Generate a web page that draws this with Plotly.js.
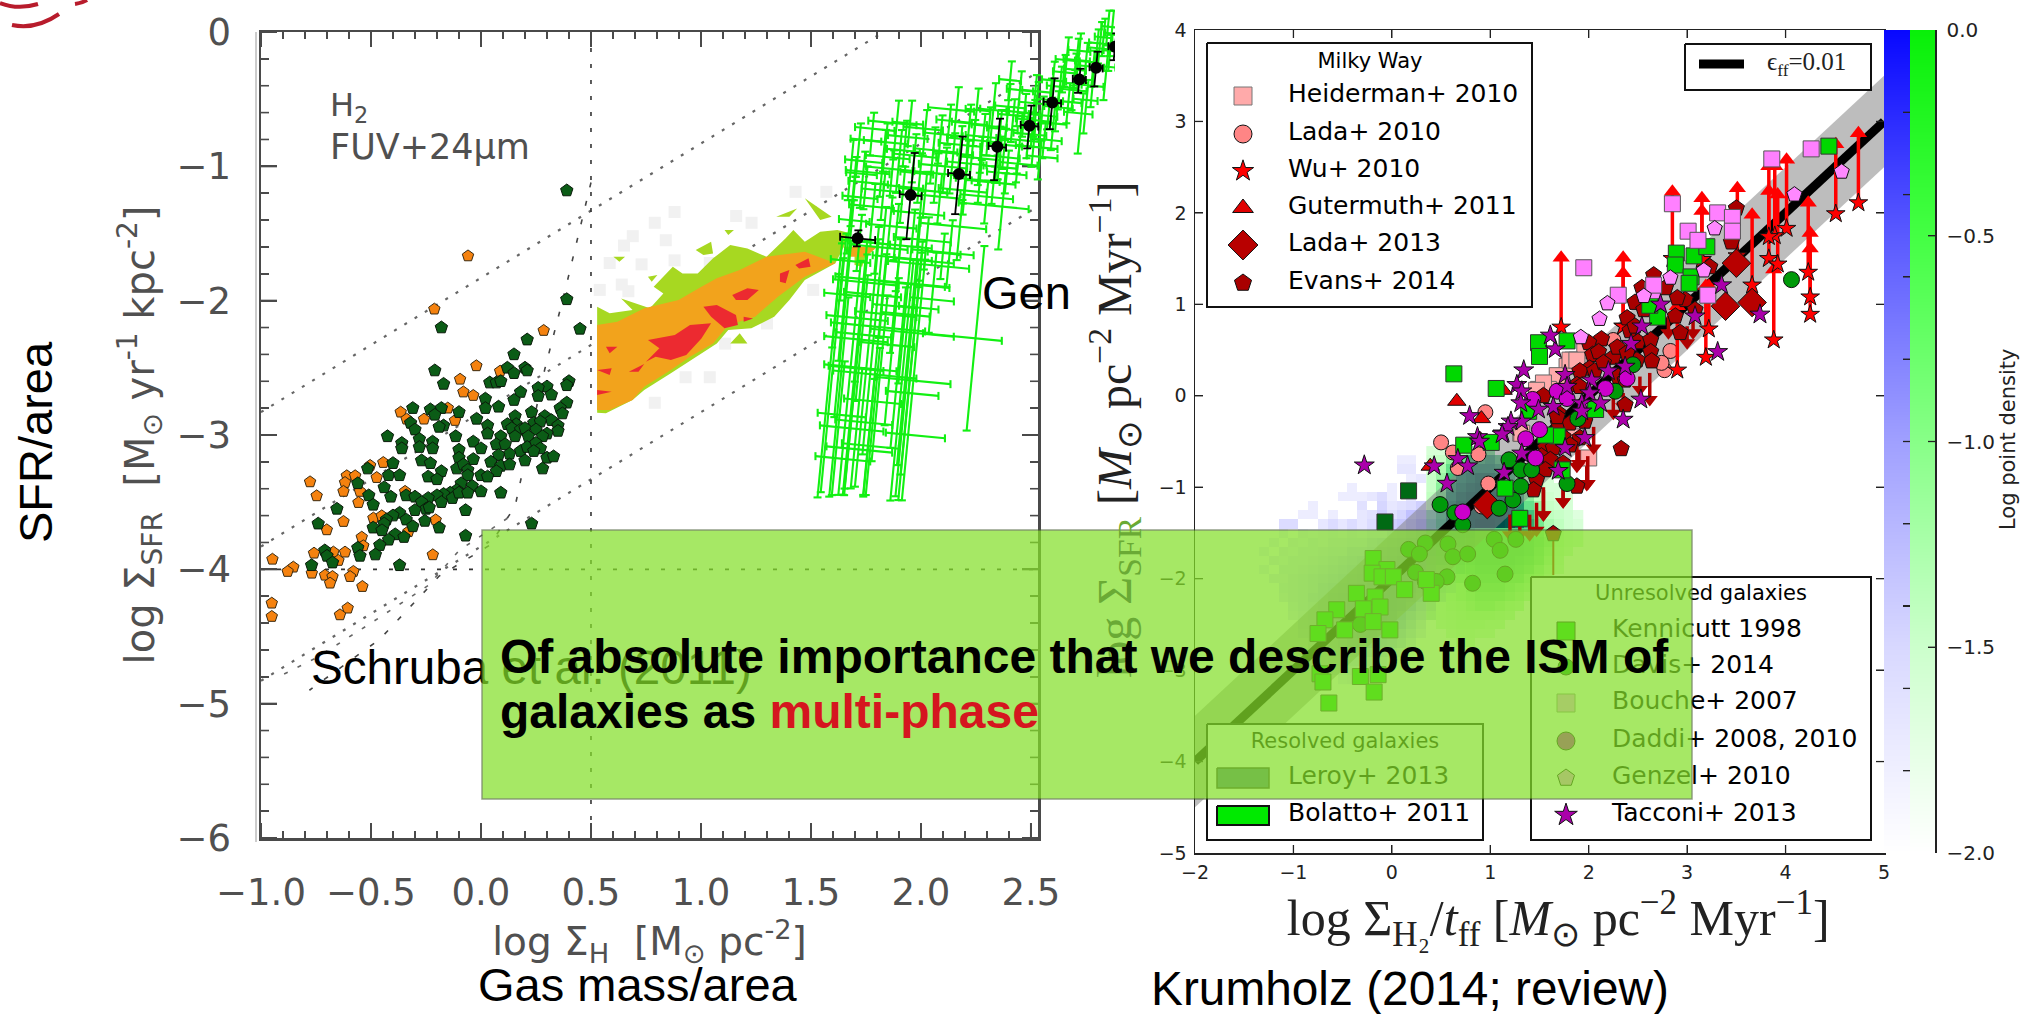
<!DOCTYPE html>
<html><head><meta charset="utf-8">
<script src="https://cdn.plot.ly/plotly-3.0.1.min.js"></script>
<style>html,body{margin:0;padding:0;background:#fff}#p{width:2025px;height:1014px}</style></head>
<body><div id="p"></div>
<script>
const _ = null;
// ---------- Left panel (Schruba et al. 2011): log gas surface density vs log SFR surface density
const darkGreenX = [.39,.39,-.18,.21,.45,.15,.12,.20,.21,.15,-.21,-.17,.04,.07,.09,.40,.39,.30,.26,.32,.26,.18,.15,.02,.02,.08,.39,.36,.37,-.31,-.23,-.18,-.21,-.10,-.02,.23,.29,.32,.35,.35,.155,.16,.12,.14,.18,.24,.27,.20,.25,.30,.03,.03,-.17,-.19,-.32,-.30,-.115,-.425,-.36,-.36,-.28,-.28,-.22,-.22,-.035,.09,.155,.215,.28,-.10,-.10,-.035,0,.07,.11,.13,.08,.18,.21,.25,.27,.24,.30,.33,.20,.045,.09,.13,.07,.28,-.27,-.23,-.40,-.515,-.42,-.37,-.11,-.08,-.06,-.06,-.18,-.24,-.20,0,.03,-.56,-.44,-.41,-.51,-.49,-.655,-.34,-.30,-.09,-.04,-.11,-.14,-.17,-.20,-.24,-.27,-.18,-.13,-.10,-.06,0,.09,-.25,-.30,-.235,-.07,-.37,-.40,-.43,-.34,-.44,-.255,-.49,-.45,-.31,-.19,-.74,-.39,-.42,-.35,-.07,-.46,-.56,-.55,-.48,-.71,-.70,-.675,-.77,-.37,.23];
const darkGreenY = [-1.18,-1.99,-2.20,-2.29,-2.21,-2.40,-2.50,-2.50,-2.52,-2.54,-2.52,-2.62,-2.61,-2.61,-2.60,-2.60,-2.63,-2.64,-2.65,-2.70,-2.71,-2.68,-2.74,-2.73,-2.80,-2.79,-2.76,-2.80,-2.84,-2.80,-2.81,-2.80,-2.85,-2.83,-2.88,-2.83,-2.86,-2.89,-2.93,-2.97,-2.86,-2.92,-2.92,-2.95,-2.96,-2.91,-2.90,-2.95,-2.96,-2.99,-2.93,-2.99,-2.93,-2.94,-2.91,-2.96,-3.01,-3.01,-3.06,-3.10,-3.03,-3.09,-3.05,-3.10,-3.05,-3.01,-3.01,-3.01,-3.01,-3.11,-3.17,-3.18,-3.10,-3.07,-3.07,-3.14,-3.15,-3.12,-3.09,-3.06,-3.10,-3.12,-3.17,-3.16,-3.19,-3.20,-3.23,-3.22,-3.27,-3.25,-3.19,-3.21,-3.21,-3.25,-3.30,-3.30,-3.25,-3.22,-3.26,-3.30,-3.27,-3.31,-3.33,-3.30,-3.31,-3.36,-3.39,-3.46,-3.45,-3.52,-3.55,-3.45,-3.46,-3.36,-3.38,-3.41,-3.43,-3.44,-3.45,-3.47,-3.50,-3.50,-3.47,-3.43,-3.43,-3.42,-3.43,-3.55,-3.56,-3.54,-3.56,-3.58,-3.60,-3.63,-3.63,-3.66,-3.64,-3.69,-3.71,-3.68,-3.69,-3.66,-3.74,-3.78,-3.76,-3.75,-3.82,-3.84,-3.90,-3.89,-3.86,-3.90,-3.95,-3.97,-3.97,-3.66];
const orangeX = [-.059,-.212,.285,-.021,.087,-.095,-.08,-.035,-.365,-.338,-.259,-.118,-.151,-.444,-.504,-.474,-.61,-.572,-.618,-.777,-.747,-.625,-.55,-.557,-.625,-.701,-.489,-.451,-.206,-.345,-.33,-.542,-.535,-.618,-.671,-.759,-.648,-.219,-.948,-.853,-.879,-.769,-.709,-.675,-.686,-.58,-.595,-.539,-1.009,-.951,-.951,-.606,-.641];
const orangeY = [-1.667,-2.063,-2.222,-2.485,-2.525,-2.585,-2.68,-2.706,-2.83,-2.882,-2.882,-2.892,-2.8,-3.205,-3.227,-3.317,-3.304,-3.304,-3.354,-3.349,-3.453,-3.42,-3.42,-3.503,-3.644,-3.706,-3.619,-3.602,-3.632,-3.42,-3.72,-3.761,-3.825,-3.872,-3.872,-3.88,-3.934,-3.892,-3.925,-3.984,-4.016,-4.029,-4.044,-4.054,-4.103,-4.016,-4.054,-4.128,-4.106,-4.252,-4.351,-4.289,-4.339];
const effLineX = [-1, 1.83];
const effLineA = [-2.83, 0];
const effLine2X = [-1, 2.53];
const effLineB = [-3.83, -.3];
const effLineC = [-4.83, -1.3];
const steepX1 = [.5,.38,.29,.155,.04,-.19,-.46,-.78];
const steepY1 = [-1.12,-1.94,-2.51,-3.53,-3.82,-4.05,-4.52,-4.9];
const steepX2 = [.12,-.1,-.24,-.5,-.75,-.92];
const steepY2 = [-3.62,-3.86,-4.12,-4.4,-4.66,-4.8];
const contourGreenX = [.528,.585,.689,.637,.768,.829,.785,.872,.916,.985,1.055,1.133,1.211,1.298,1.385,1.42,1.472,1.542,1.62,1.68,1.611,1.472,1.402,1.333,1.229,1.124,1.072,.968,.863,.742,.689,.568,.528,_,1.342,1.437,1.402,_,1.472,1.594,1.542,_,.976,1.046,1.055,1.011,_,.602,.655,.629,_,1.107,1.15,1.124,_,.759,.802,.776,_,1.133,1.176,1.211,_,1.698,1.75,1.733,1.698];
const contourGreenY = [-2.045,-2.094,-2.07,-1.983,-2.057,-1.946,-1.896,-1.747,-1.797,-1.797,-1.685,-1.586,-1.611,-1.673,-1.536,-1.474,-1.561,-1.487,-1.474,-1.499,-1.722,-1.846,-1.995,-2.119,-2.206,-2.219,-2.318,-2.43,-2.541,-2.665,-2.74,-2.839,-2.834,_,-1.375,-1.313,-1.375,_,-1.238,-1.375,-1.4,_,-1.623,-1.561,-1.648,-1.66,_,-1.673,-1.673,-1.71,_,-1.474,-1.474,-1.511,_,-1.822,-1.809,-1.859,_,-2.318,-2.243,-2.318,_,-1.648,-1.648,-1.747,-1.735];
const contourOrangeX = [.528,.62,.742,.898,1.002,1.072,1.176,1.298,1.472,1.576,1.611,1.472,1.35,1.246,1.124,1.055,.95,.863,.742,.689,.585,.528,_,1.646,1.802,1.75,1.68];
const contourOrangeY = [-2.181,-2.157,-2.057,-1.995,-1.896,-1.834,-1.772,-1.673,-1.635,-1.697,-1.722,-1.822,-1.97,-2.119,-2.181,-2.318,-2.417,-2.516,-2.64,-2.74,-2.814,-2.814,_,-1.598,-1.598,-1.673,-1.673];
const contourRedX = [.759,.881,.95,1.046,1.002,.933,.863,.794,.75,.811,_,1.011,1.072,1.159,1.168,1.107,1.046,_,1.142,1.211,1.263,1.211,1.159,_,1.359,1.402,1.385,1.359,_,1.429,1.489,1.498,1.446,_,.528,.594,.585,_,.672,.742,.716,_,.568,.62,.585,_,.528,.594,.528,_,1.194,1.237,1.194];
const contourRedY = [-2.293,-2.256,-2.181,-2.169,-2.281,-2.405,-2.442,-2.417,-2.454,-2.355,_,-2.045,-2.032,-2.107,-2.181,-2.206,-2.119,_,-1.958,-1.908,-1.921,-1.995,-1.995,_,-1.797,-1.772,-1.871,-1.859,_,-1.735,-1.685,-1.747,-1.76,_,-2.516,-2.504,-2.553,_,-2.529,-2.472,-2.529,_,-2.343,-2.343,-2.392,_,-2.665,-2.678,-2.702,_,-2.119,-2.132,-2.157];
const faintX = [1.43,1.57,.88,.79,1.16,1.23,.69,.65,.84,.585,.73,.88,1.04,.64,.54,.67,1.51,1.3,1.11,1.04,.93,.79,.62];
const faintY = [-1.19,-1.19,-1.34,-1.42,-1.37,-1.42,-1.52,-1.59,-1.55,-1.72,-1.73,-1.70,-1.72,-1.88,-1.92,-1.93,-1.92,-2.17,-2.32,-2.57,-2.57,-2.76,-2.71];
// Genzel points: x, y, x-, x+, y+, y-
const errX  = [1.685,1.738,1.829,1.89,1.95,1.905,1.996,2.056,2.162,2.147,2.208,2.253,2.283,2.329,2.397,2.405,2.45,2.526,2.586,2.662,2.708,2.753,2.73,2.814,2.844,2.867,2.511,2.45,2.359,2.541,2.39,2.268,2.086,1.996,1.89,1.783,1.693,1.677,2.071,1.92,2.238,2.299,2.177,2.026,2.344,2.511,2.632,2.783,2.693,2.602,2.248,1.60,1.68,1.89,1.96,1.935,1.97,1.79,1.60,1.60,1.68,1.715,1.77,1.81,1.97,1.88,2.05,1.87,1.66,1.65,1.95,1.85,2.13,2.37,
 1.72,1.78,1.84,1.87,1.93,1.97,2.02,2.02,2.09,2.11,2.13,2.18,2.2,2.22,2.27,2.31,2.33,2.36,2.38,2.42,2.44,2.47,2.49,2.52,2.55,2.56,2.6,2.62,2.65,2.67,2.7,2.72,2.75,2.78,2.8,2.83,2.85,2.86,1.75,1.83,1.7,1.72,1.8,1.9,2.0,2.1,1.65,1.62,1.75,1.84,1.92,1.98,1.71,1.63,1.79,1.67,1.76];
const errY  = [-.953,-1.04,-.928,-.68,-.68,-.879,-1.052,-.879,-.58,-.903,-.978,-.58,-.779,-.58,-.556,-.358,-.432,-.531,-.506,-.209,-.209,-.506,-.606,-.085,-.258,-.01,-.854,-.804,-.928,-.928,-1.052,-1.102,-1.226,-1.35,-1.449,-1.30,-1.226,-1.40,-1.052,-1.152,-.804,-1.226,-1.449,-1.549,-1.003,-.655,-.407,-.258,-.432,-.68,-2.28,-3.17,-2.95,-2.99,-2.69,-2.59,-2.24,-2.55,-2.48,-2.27,-2.5,-2.25,-2.19,-1.85,-1.88,-2.04,-1.99,-2.33,-1.85,-2.12,-1.72,-1.58,-1.65,-1.3,
 -.80,-.72,-.82,-1.02,-.78,-.92,-.72,-1.18,-.76,-1.0,-.66,-.84,-1.18,-.68,-.94,-.7,-1.12,-.72,-.84,-.62,-.98,-.6,-.76,-.44,-.62,-.8,-.36,-.56,-.3,-.52,-.28,-.14,-.22,-.4,-.12,-.04,.04,-.14,-1.12,-1.18,-1.05,-1.56,-1.6,-1.68,-1.7,-1.64,-1.7,-1.95,-1.95,-2.1,-2.1,-2.05,-2.9,-2.85,-2.75,-3.1,-3.08];
const errXm = [.03,.08,.08,.13,.08,.06,.09,.09,.13,.09,.09,.05,.08,.06,.06,.05,.06,.08,.06,.05,.06,.06,.08,.05,.05,.03,.08,.09,.09,.06,.09,.11,.14,.12,.14,.11,.05,.05,.11,.09,.12,.12,.18,.15,.06,.08,.06,.06,.06,.06,.24,.08,.14,.05,.12,.14,.2,.19,.04,.04,.1,.1,.18,.2,.16,.1,.1,.15,.06,.08,.1,.08,.1,.2,
 .04,.08,.1,.12,.08,.1,.1,.12,.08,.12,.06,.1,.12,.08,.09,.08,.1,.06,.08,.07,.08,.07,.07,.06,.06,.06,.05,.06,.05,.06,.05,.05,.05,.05,.04,.04,.03,.03,.08,.1,.04,.08,.12,.12,.12,.14,.06,.06,.1,.14,.1,.08,.1,.1,.14,.1,.12];
const errXp = [.14,.12,.12,.09,.06,.09,.06,.11,.08,.09,.09,.06,.06,.06,.08,.05,.06,.09,.06,.06,.06,.05,.05,.05,.04,.03,.11,.09,.09,.08,.09,.09,.09,.11,.09,.09,.11,.09,.08,.09,.12,.12,.12,.11,.09,.08,.08,.05,.06,.06,.12,.17,.15,.22,.12,.2,.18,.19,.29,.25,.15,.15,.25,.3,.16,.1,.1,.1,.24,.2,.27,.2,.05,.12,
 .1,.1,.1,.1,.1,.1,.08,.1,.1,.1,.1,.09,.1,.08,.09,.08,.1,.08,.08,.07,.09,.07,.08,.07,.07,.08,.06,.07,.06,.06,.05,.05,.05,.05,.05,.04,.04,.03,.1,.09,.1,.14,.14,.15,.15,.14,.12,.15,.16,.14,.12,.1,.16,.12,.12,.2,.14];
const errYp = [.15,.15,.20,.17,.17,.15,.15,.17,.17,.15,.17,.16,.17,.20,.17,.14,.14,.16,.16,.17,.16,.15,.15,.16,.17,.17,.17,.20,.15,.12,.17,.15,.17,.17,.17,.17,.15,.15,.15,.15,.15,.12,.20,.17,.30,.15,.15,.12,.15,.15,.69,1.2,1.3,1.3,1.0,.9,.6,.9,.8,.7,.8,.7,.65,.55,.5,.5,.35,.5,.6,.55,.4,.35,.25,.25,
 .12,.12,.14,.14,.12,.16,.14,.14,.14,.14,.12,.14,.12,.14,.16,.14,.12,.14,.12,.12,.14,.14,.12,.12,.14,.12,.14,.12,.13,.14,.12,.13,.14,.12,.14,.14,.12,.12,.12,.14,.12,.2,.15,.15,.14,.14,.2,.15,.14,.14,.2,.2,.4,.4,.4,.5,.5];
const errYm = [.30,.27,.30,.27,.17,.32,.22,.25,.20,.30,.30,.27,.27,.27,.25,.15,.27,.25,.22,.20,.19,.25,.30,.15,.25,.17,.15,.25,.17,.17,.15,.17,.20,.25,.25,.25,.22,.25,.22,.27,.30,.20,.25,.22,.12,.20,.17,.15,.15,.20,.69,.29,.5,.5,.8,.87,1.25,.9,.95,1.2,.95,1.2,1.2,1.3,1.35,.35,.25,.6,.6,.75,.9,.7,.25,.32,
 .28,.2,.22,.2,.22,.2,.2,.2,.22,.2,.18,.2,.18,.24,.2,.22,.16,.2,.18,.2,.14,.18,.18,.16,.18,.14,.16,.18,.15,.16,.14,.14,.16,.16,.14,.14,.14,.15,.2,.22,.2,.22,.2,.25,.2,.2,.3,.4,.8,1.1,1.0,1.25,.5,.6,.7,.3,.38];
const blackX  = [1.712,1.953,2.173,2.347,2.493,2.597,2.72,2.796,2.882];
const blackY  = [-1.536,-1.214,-1.057,-.854,-.697,-.524,-.353,-.266,-.11];
const blackYp = [.06,.315,.28,.21,.15,.18,.08,.12,.1];
const blackYm = [.06,.33,.30,.25,.17,.20,.10,.14,.1];
const blackXe = [.08,.05,.05,.04,.04,.04,.03,.03,.03];

// ---------- Right panel (Krumholz 2014)
const bandX = [-2,5,5,-2,-2];
const bandY = [-3.5,3.5,2.5,-4.5,-3.5];
const effX = [-2,5];
const effY = [-4,3];
const heidX = [2.0,1.84,1.78,1.68,1.96,1.49,1.31,1.81,1.86,1.59,1.88,1.54,1.47,1.32];
const heidY = [-.68,.39,.32,.22,.5,.07,-.41,.39,-.45,.07,.39,.14,.06,-.41];
const ladaX = [2.83,2.77,2.74,2.25,.50,.95,.62,.88,.67,.98,.91];
const ladaY = [.49,.28,.36,.61,-.51,-.18,-.62,-.64,-.79,-.96,-1.21];
const wuX   = [4.74,4.51,4.01,3.89,3.83,3.83,3.92,3.51,3.66,4.23,4.25,4.25,3.88,3.22,3.19,2.9,1.72,2.35,2.35,2.85,3.15,3.15];
const wuY   = [2.11,1.99,1.83,1.75,1.74,1.5,1.44,1.53,1.21,1.35,1.08,.89,.61,.73,.42,.28,.75,.76,.76,1.5,1.49,1.49];
const wuTop = [2.87,2.75,2.58,2.51,2.51,2.24,2.20,2.27,1.98,2.11,1.78,1.61,1.38,1.2,1.2,.98,1.51,1.51,1.34,2.23,2.16,2.02];
const gutX  = [.66,.91,1.13,.39,.9];
const gutY  = [-.06,-.25,.06,-.77,-.48];
const limX  = [2.81,3.0,3.06,2.52,2.62,2.25,2.05,1.9,1.99,1.74,1.54,2.35,1.88,1.47,1.54,1.74,1.98,1.2,1.3,1.4];
const limTop= [.87,.76,.83,.21,.25,.03,-.34,-.59,-.66,-.92,-1.03,.03,-.45,-1.17,-1.0,-.92,-.77,-1.3,-1.3,-1.3];
const limEnd= [.69,.58,.69,.07,-.04,-.19,-.57,-.74,-.96,-1.16,-1.3,-.12,-.77,-1.47,-1.3,-1.16,-.97,-1.52,-1.52,-1.52];
const evansX = [2.33,3.5,3.45,2.66,2.54,2.47,2.39,2.42,2.13,2.0,2.04,2.25,2.29,2.5,2.63,2.63,2.64,2.49,2.1,2.01,1.91,1.88,2.06,2.3,2.39,2.98,2.9,2.93,2.88,2.78,2.69,2.56,3.08,3.23,2.47,2.37,2.37,1.69,1.69,1.81,1.96,1.74,1.91,1.81,1.56,1.64,1.52,1.61,1.56,1.74,1.47,1.44,1.88,1.91,2.15,1.68,1.54,1.64];
const evansY = [-.58,2.05,1.68,1.32,1.18,1.02,.85,.71,.62,.58,.45,.42,.53,.59,.61,.48,.38,.39,.48,.30,.27,.12,.27,.21,.47,1.05,1.07,.69,.87,1.18,.92,.94,.94,1.41,.76,.17,-.10,-.30,-.19,-.3,-.28,-.45,-.46,-.54,-.57,-.57,-.66,-.70,-.81,-.74,-.92,-1.03,-.99,.1,.36,-.23,.0,-1.51];
const lada13X = [3.39,3.66,.97,3.5];
const lada13Y = [.98,1.02,-1.19,1.45];
const kennX = [4.44,2.89,2.88,3.07,3.2,3.04,3.02,2.70,2.62,1.78,1.49,1.5,1.06,1.68,1.56,1.01,2.07,1.39,1.15,1.73,1.3,.63,.73,-.19,-.05,-.2,-.1,.015,.13,-.36,-.17,-.29,-.12,-.56,-.68,-.48,-.19,-.75,-.02,-.73,-.32,-.7,-.14,-.18,-.64,.40,.35];
const kennY = [2.73,1.56,1.43,1.53,1.63,1.30,1.23,.86,.99,.60,.58,.43,.08,-.44,-.43,-.51,-.15,-.17,-1.01,-.81,-1.34,.24,-.54,-1.78,-1.9,-1.94,-1.98,-1.98,-2.12,-2.16,-2.2,-2.33,-2.31,-2.34,-2.45,-2.56,-2.47,-2.6,-2.56,-3.04,-3.07,-3.13,-3.05,-3.24,-3.36,-2.16,-2.01];
const darkSqX = [.17,-.07];
const darkSqY = [-1.04,-1.38];
const davisX = [4.06,2.45,2.27,1.89,1.19,1.31,1.42,1.31,1.23,1.09,1.78,.49,.64,.72,.34,.17,.28,.57,.62,.77,1.04,1.26,1.1,.24,.56,.45,.34,.82,1.15,-.32];
const davisY = [1.27,.34,.05,-.25,-.70,-.81,-.81,-.99,-1.14,-1.23,-.96,-1.19,-1.28,-1.41,-1.61,-1.68,-1.73,-1.62,-1.76,-1.73,-1.57,-1.57,-1.69,-1.93,-1.98,-2.03,-2.03,-2.05,-1.95,-2.5];
const boucheX = [3.86,4.26,3.31,3.46,3.46,3.01,3.11,2.85,1.95,2.30,2.65,3.21,2.66];
const boucheY = [2.59,2.70,2.0,1.95,1.80,1.80,1.70,2.10,1.40,1.10,1.15,1.10,1.21];
const genzelX = [4.57,4.09,3.28,3.17,2.83,2.56,2.19,2.11,1.92];
const genzelY = [2.45,2.20,1.83,1.37,1.29,1.09,1.01,.84,.64];
const daddiX = [2.39,2.17,1.68,1.78,1.43,1.5,1.36,1.46,.72];
const daddiY = [.19,.08,.05,-.03,-.04,-.37,-.47,-.68,-1.27];
const tacconiX = [3.74,3.31,3.35,3.08,2.73,2.54,2.43,2.37,2.2,1.76,1.34,1.27,1.66,1.61,1.32,1.31,2.35,2.53,1.96,1.76,1.69,1.32,1.14,1.32,1.21,1.13,1.93,2.03,2.01,1.93,1.64,1.49,1.78,2.12,-.28,.79,.87,.43,.67,.77,.56,.89,1.18,1.12];
const tacconiY = [.89,.48,1.21,.87,1.0,.76,.57,.32,.27,.23,.28,.12,.51,.66,.05,-.08,-.26,-.04,-.46,-.57,-.82,-.63,-.84,-.28,-.28,-.41,-.08,.17,.03,-.17,-.12,-.15,.1,-.08,-.76,-.22,-.45,-.77,-.69,-.77,-.96,-.5,-.34,-.42];
// density maps (log point density)
const blueColsX = [-1.3,-1.2,-1.1,-1.0,-.9,-.8,-.7,-.6,-.5,-.4,-.3,-.2,-.1,0,.1,.2,.3,.4,.5,.6,.7,.8,.9,1.0];
const blueRowsY = [-.7,-.8,-.9,-1.0,-1.1,-1.2,-1.3,-1.4,-1.5,-1.6,-1.7,-1.8,-1.9,-2.0,-2.1,-2.2,-2.3,-2.4,-2.5,-2.6,-2.7,-2.8,-2.9,-3.0,-3.1];
const blueZ = [
[_,_,_,_,_,_,_,_,_,_,_,_,_,_,-1.9,-1.9,_,_,_,_,_,_,_,_],
[_,_,_,_,_,_,_,_,_,_,_,_,_,_,-1.8,-1.8,_,_,_,_,_,_,_,_],
[_,_,_,_,_,_,_,_,_,_,_,_,_,_,_,-1.9,-1.8,_,_,_,_,_,_,_],
[_,_,_,_,_,_,_,_,_,-1.9,_,_,_,-1.9,_,_,_,_,_,_,_,_,_,_],
[_,_,_,_,_,_,_,_,-1.9,-1.9,-1.9,-1.8,-1.6,-1.9,_,-1.8,_,_,_,_,_,_,_,_],
[_,_,_,_,_,-1.9,_,_,_,_,-1.7,_,-1.5,-1.8,-1.7,-1.6,-1.4,_,_,_,_,_,_,_],
[_,_,_,_,-1.9,-1.9,_,-1.9,_,_,-1.8,-1.7,-1.4,-1.7,-1.5,-1.2,-1.0,-1.0,-1.0,-1.1,_,_,_,_],
[_,_,-1.6,-1.6,_,_,-1.8,-1.6,-1.8,-1.6,-1.8,-1.6,-1.7,-1.4,-1.3,-1.0,-.8,-.7,-.7,-.8,-1.0,-1.3,_,_],
[_,_,-1.9,_,-1.8,-1.9,-1.8,-1.7,-1.8,-1.6,-1.7,-1.5,-1.5,-1.3,-1.2,-1.0,-.8,-.6,-.6,-.7,-.9,-1.2,_,_],
[_,-1.9,_,-1.8,-1.9,-1.7,-1.8,-1.6,-1.6,-1.5,-1.5,-1.3,-1.2,-1.1,-1.0,-.8,-.7,-.6,-.6,-.8,-1.0,-1.4,_,_],
[-1.9,_,-1.8,-1.9,-1.7,-1.7,-1.6,-1.5,-1.5,-1.3,-1.3,-1.2,-1.0,-.9,-.8,-.7,-.6,-.6,-.7,-.9,-1.2,-1.6,_,_],
[_,-1.8,-1.9,-1.7,-1.7,-1.6,-1.5,-1.4,-1.3,-1.2,-1.1,-1.0,-.9,-.8,-.7,-.6,-.6,-.7,-.8,-1.0,-1.4,_,_,_],
[-1.9,_,-1.7,-1.7,-1.6,-1.5,-1.4,-1.3,-1.2,-1.1,-1.0,-.9,-.8,-.7,-.6,-.6,-.6,-.8,-1.0,-1.3,-1.6,_,_,_],
[_,-1.8,-1.8,-1.6,-1.5,-1.4,-1.3,-1.2,-1.1,-1.0,-.9,-.8,-.7,-.6,-.6,-.6,-.7,-.9,-1.2,-1.5,_,_,_,_],
[_,_,-1.7,-1.6,-1.5,-1.4,-1.2,-1.1,-1.0,-.9,-.8,-.7,-.6,-.5,-.5,-.6,-.8,-1.1,-1.4,-1.7,_,_,_,_],
[_,_,-1.8,-1.6,-1.5,-1.3,-1.2,-1.0,-.9,-.8,-.7,-.6,-.5,-.5,-.6,-.7,-.9,-1.2,-1.6,_,_,_,_,_],
[_,_,_,-1.7,-1.5,-1.4,-1.2,-1.0,-.9,-.7,-.6,-.5,-.5,-.5,-.6,-.8,-1.1,-1.4,_,_,_,_,_,_],
[_,_,_,-1.8,-1.6,-1.4,-1.2,-1.0,-.8,-.7,-.6,-.5,-.5,-.6,-.8,-1.0,-1.3,-1.7,_,_,_,_,_,_],
[_,_,_,_,-1.7,-1.5,-1.3,-1.1,-.9,-.7,-.6,-.6,-.6,-.7,-.9,-1.2,-1.6,_,_,_,_,_,_,_],
[_,_,_,_,-1.8,-1.6,-1.4,-1.2,-1.0,-.8,-.7,-.7,-.8,-.9,-1.1,-1.4,-1.8,_,_,_,_,_,_,_],
[_,_,_,_,_,-1.8,-1.6,-1.4,-1.2,-1.0,-.9,-.9,-1.0,-1.1,-1.3,-1.7,_,_,_,_,_,_,_,_],
[_,_,_,_,_,-1.9,-1.7,-1.5,-1.4,-1.2,-1.2,-1.2,-1.3,-1.5,-1.8,_,_,_,_,_,_,_,_,_],
[_,_,_,_,_,_,-1.8,-1.6,-1.5,-1.4,-1.4,-1.5,-1.6,-1.8,_,_,_,_,_,_,_,_,_,_],
[_,_,_,_,_,_,-1.9,-1.8,-1.7,-1.6,-1.7,-1.8,-1.9,_,_,_,_,_,_,_,_,_,_,_],
[_,_,_,_,_,_,_,_,-1.9,-1.8,-1.8,-1.9,_,_,_,_,_,_,_,_,_,_,_,_]];
const greenColsX = [.4,.5,.6,.7,.8,.9,1.0,1.1,1.2,1.3,1.4,1.5,1.6,1.7,1.8,1.9];
const greenRowsY = [-.6,-.7,-.8,-.9,-1.0,-1.1,-1.2,-1.3,-1.4,-1.5,-1.6,-1.7,-1.8,-1.9,-2.0,-2.1,-2.2,-2.3,-2.4,-2.5,-2.6,-2.7];
const greenZ = [
[-1.8,-1.8,-1.6,-1.4,-1.2,-1.0,-1.0,_,_,_,_,_,_,_,_,_],
[-1.7,-1.6,-1.2,-1.0,-.7,-.7,-.6,-.8,-1.4,-1.6,_,_,_,_,_,_],
[-1.7,-1.4,-1.0,-.7,-.5,-.5,-.5,-.6,-.9,-1.2,-1.6,-1.8,_,_,_,_],
[-1.6,-1.3,-.8,-.5,-.4,-.3,-.3,-.4,-.7,-1.0,-1.5,-1.7,-1.8,_,_,_],
[-1.6,-1.2,-.6,-.4,-.3,-.25,-.2,-.3,-.5,-.9,-1.4,-1.6,-1.8,-1.8,_,_],
[-1.5,-1.1,-.5,-.3,-.2,-.2,-.15,-.15,-.3,-.7,-1.2,-1.5,-1.7,-1.8,-1.8,_],
[-1.5,-1.0,-.4,-.2,-.15,-.1,-.1,-.1,-.25,-.6,-1.0,-1.3,-1.6,-1.7,-1.8,_],
[-1.4,-.9,-.4,-.2,-.1,-.1,-.05,-.1,-.25,-.5,-.8,-1.2,-1.5,-1.6,-1.7,-1.9],
[-1.4,-.9,-.4,-.2,-.1,0,0,-.1,-.2,-.4,-.7,-1.1,-1.4,-1.5,-1.7,-1.8],
[-1.5,-1.1,-1.0,-.95,-.9,-.9,-.9,-.9,-.9,-.9,-.95,-1.1,-1.3,-1.5,-1.7,-1.8],
[-1.5,-1.2,-1.0,-.95,-.9,-.9,-.9,-.9,-.9,-.9,-.95,-1.05,-1.2,-1.5,-1.7,-1.8],
[-1.6,-1.3,-1.1,-1.0,-.95,-.9,-.9,-.9,-.9,-.9,-.95,-1.1,-1.3,-1.6,-1.8,_],
[-1.6,-1.4,-1.2,-1.05,-.95,-.9,-.9,-.9,-.9,-.95,-1.0,-1.15,-1.4,-1.7,_,_],
[-1.7,-1.5,-1.3,-1.1,-1.0,-.95,-.95,-.95,-.95,-1.0,-1.1,-1.3,-1.5,-1.8,_,_],
[-1.7,-1.6,-1.4,-1.2,-1.1,-1.0,-1.0,-1.0,-1.1,-1.1,-1.3,-1.4,-1.7,_,_,_],
[-1.8,-1.6,-1.5,-1.4,-1.2,-1.1,-1.1,-1.1,-1.2,-1.3,-1.4,-1.6,_,_,_,_],
[-1.8,-1.7,-1.5,-1.4,-1.3,-1.2,-1.2,-1.2,-1.3,-1.4,-1.6,_,_,_,_,_],
[-1.9,-1.8,-1.6,-1.5,-1.4,-1.3,-1.3,-1.4,-1.5,-1.6,_,_,_,_,_,_],
[-1.9,-1.8,-1.7,-1.6,-1.5,-1.5,-1.5,-1.6,-1.7,_,_,_,_,_,_,_],
[_,-1.9,-1.8,-1.7,-1.7,-1.7,-1.8,-1.8,_,_,_,_,_,_,_,_],
[_,_,-1.9,-1.8,-1.8,-1.9,-1.9,_,_,_,_,_,_,_,_,_],
[_,_,_,-1.9,-1.9,_,_,_,_,_,_,_,_,_,_,_]];
const colorbarLevels = [-2,-1.75,-1.5,-1.25,-1,-.75,-.5,-.25,0];
const leftXTicks = [-1,-.5,0,.5,1,1.5,2,2.5];
const leftYTicks = [0,-1,-2,-3,-4,-5,-6];
const leftXMinor = [-.9,-.8,-.7,-.6,-.4,-.3,-.2,-.1,.1,.2,.3,.4,.6,.7,.8,.9,1.1,1.2,1.3,1.4,1.6,1.7,1.8,1.9,2.1,2.2,2.3,2.4];
const leftYMinor = [-.2,-.4,-.6,-.8,-1.2,-1.4,-1.6,-1.8,-2.2,-2.4,-2.6,-2.8,-3.2,-3.4,-3.6,-3.8,-4.2,-4.4,-4.6,-4.8,-5.2,-5.4,-5.6,-5.8];
const rightXTicks = [-1,0,1,2,3,4];
const rightYTicks = [-4,-3,-2,-1,0,1,2,3];
const blueBarTicks = [-1.8,-1.6,-1.4,-1.2,-1,-.8,-.6,-.4,-.2];
const greenBarTicks = [-.5,-1,-1.5];

// ---------- page geometry
const W = 2025, H = 1014;
const hdom = (a,b) => [a/W, b/W];
const vdom = (top,bot) => [1-bot/H, 1-top/H];
const PXX = 220, PXY = 134.4, ANG = 5.5*Math.PI/180;
function tiltedErrors(xs, ys, xm, xp, yp, ym){
  const lx=[], ly=[]; const s=Math.sin(ANG), c=Math.cos(ANG);
  const capX = 4/PXX, capY = 4/PXY;
  xs.forEach((x,i)=>{
    const y=ys[i];
    const tx = x + yp[i]*PXY*s/PXX, ty = y + yp[i]*c;
    const bx = x - ym[i]*PXY*s/PXX, by = y - ym[i]*c;
    const rx = x + xp[i]*c, ry = y - xp[i]*PXX*s/PXY;
    const qx = x - xm[i]*c, qy = y + xm[i]*PXX*s/PXY;
    lx.push(tx,bx,_, qx,rx,_, tx-capX,tx+capX,_, bx-capX,bx+capX,_, qx,qx,_, rx,rx,_);
    ly.push(ty,by,_, qy,ry,_, ty,ty,_, by,by,_, qy-capY,qy+capY,_, ry-capY,ry+capY,_);
  });
  return {lx,ly};
}
const stems = (xs,a,b)=>{const X=[],Y=[];xs.forEach((x,i)=>{X.push(x,x,_);Y.push(a[i],b[i],_);});return {X,Y};};
// tick marks along a given edge, as a line trace in that subplot
function tickMarks(axX, axY, vals, vertical, edge, inward, color, width){
  const X=[],Y=[];
  vals.forEach(v=>{
    if(vertical){ X.push(v,v,_); Y.push(edge,edge+inward,_); }
    else        { X.push(edge,edge+inward,_); Y.push(v,v,_); }
  });
  return {type:'scatter',mode:'lines',xaxis:axX,yaxis:axY,x:X,y:Y,cliponaxis:false,showlegend:false,hoverinfo:'skip',line:{color,width}};
}

const traces = [];
const L = {xaxis:'x',yaxis:'y',cliponaxis:false,showlegend:false,hoverinfo:'skip'};
const dotted = (x,y,dash,col,w)=>({...L,type:'scatter',mode:'lines',x,y,line:{color:col,width:w,dash}});
traces.push(
 dotted(effLineX,effLineA,'3px,9px','#666',2.2),
 dotted(effLine2X,effLineB,'3px,9px','#666',2.2),
 dotted(effLine2X,effLineC,'3px,9px','#666',2.2),
 dotted(steepX1,steepY1,'5px,14px','#444',1.6),
 dotted(steepX2,steepY2,'4px,11px','#666',1.6),
 dotted([.5,.5],[0,-6],'4px,12px','#333',1.6),
 dotted([-1,2.53],[-4,-4],'4px,12px','#333',1.6),
 {...L,type:'scatter',mode:'markers',x:faintX,y:faintY,marker:{symbol:'square',size:12,color:'#f1f1f1'}},
 {...L,type:'scatter',mode:'lines',x:contourGreenX,y:contourGreenY,fill:'toself',fillcolor:'#a7d821',line:{width:0}},
 {...L,type:'scatter',mode:'lines',x:contourOrangeX,y:contourOrangeY,fill:'toself',fillcolor:'#f2a31c',line:{width:0}},
 {...L,type:'scatter',mode:'lines',x:contourRedX,y:contourRedY,fill:'toself',fillcolor:'#ec2a30',line:{width:0}},
 {...L,type:'scatter',mode:'markers',x:orangeX,y:orangeY,marker:{symbol:'pentagon',size:12,color:'#f5820f',line:{color:'#3a2a10',width:1}}},
 {...L,type:'scatter',mode:'markers',x:darkGreenX,y:darkGreenY,marker:{symbol:'pentagon',size:13,color:'#0b5c16',line:{color:'#0a1a0a',width:1}}},
 tickMarks('x','y',leftXTicks,true,-6,15/PXY,'#4a4a4a',2),
 tickMarks('x','y',leftXTicks,true,0,-15/PXY,'#4a4a4a',2),
 tickMarks('x','y',leftXMinor,true,-6,7/PXY,'#4a4a4a',1.6),
 tickMarks('x','y',leftXMinor,true,0,-7/PXY,'#4a4a4a',1.6),
 tickMarks('x','y',leftYTicks,false,-1,16/PXX,'#4a4a4a',2),
 tickMarks('x','y',leftYTicks,false,2.532,-16/PXX,'#4a4a4a',2),
 tickMarks('x','y',leftYMinor,false,-1,8/PXX,'#4a4a4a',1.6),
 tickMarks('x','y',leftYMinor,false,2.532,-8/PXX,'#4a4a4a',1.6)
);
// Genzel error bars in a hidden wider subplot
const E = {xaxis:'x3',yaxis:'y3',showlegend:false,hoverinfo:'skip'};
const ge = tiltedErrors(errX,errY,errXm,errXp,errYp,errYm);
const be = tiltedErrors(blackX,blackY,blackXe,blackXe,blackYp,blackYm);
traces.push(
 {...E,type:'scatter',mode:'lines',x:ge.lx,y:ge.ly,line:{color:'#12f012',width:2.1},connectgaps:false},
 {...E,type:'scatter',mode:'lines',x:be.lx,y:be.ly,line:{color:'#000',width:1.8}},
 {...E,type:'scatter',mode:'markers',x:blackX,y:blackY,marker:{color:'#000',size:12}}
);
// Right panel
const R = {xaxis:'x2',yaxis:'y2',showlegend:false,hoverinfo:'skip'};
const blueScale = [[0,'rgba(0,0,255,0.05)'],[.25,'rgba(0,0,255,0.16)'],[.5,'rgba(0,0,255,0.3)'],[.75,'rgba(0,0,255,0.5)'],[1,'rgba(0,0,255,1)']];
const greenScale = [[0,'rgba(0,255,0,0.1)'],[.25,'rgba(0,255,0,0.25)'],[.5,'rgba(0,205,60,0.6)'],[.72,'rgba(0,130,90,0.9)'],[.88,'rgba(0,90,80,1)'],[1,'rgba(0,70,70,1)']];
const sq = (x,y,c,s,lc)=>({...R,type:'scatter',mode:'markers',x,y,marker:{symbol:'square',size:s||16,color:c,line:{color:lc||'#333',width:1}}});
const sym = (x,y,symbol,c,s)=>({...R,type:'scatter',mode:'markers',x,y,marker:{symbol,size:s,color:c,line:{color:'#111',width:1}}});
const wuS = stems(wuX,wuY,wuTop);
const limS = stems(limX,limTop,limEnd);
traces.push(
 {...R,type:'heatmap',x:blueColsX,y:blueRowsY,z:blueZ,zmin:-2,zmax:0,colorscale:blueScale,showscale:false},
 {...R,type:'heatmap',x:greenColsX,y:greenRowsY,z:greenZ,zmin:-2,zmax:0,colorscale:greenScale,showscale:false},
 {...R,type:'scatter',mode:'lines',x:bandX,y:bandY,fill:'toself',fillcolor:'rgba(135,135,135,0.55)',line:{width:0}},
 {...R,type:'scatter',mode:'lines',x:effX,y:effY,line:{color:'#000',width:9}},
 sq(heidX,heidY,'#ffaaaa',16,'#666'),
 sym(ladaX,ladaY,'circle','#ff8585',15),
 sym(gutX,gutY,'triangle-up','#e00000',16),
 {...R,type:'scatter',mode:'lines',x:limS.X,y:limS.Y,line:{color:'#b00000',width:3.5}},
 {...R,type:'scatter',mode:'markers',x:limX,y:limEnd,marker:{symbol:'triangle-down',size:14,color:'#b00000'}},
 {...R,type:'scatter',mode:'lines',x:[1.64,1.64],y:[-1.51,-1.96],line:{color:'#b00000',width:2}},
 {...R,type:'scatter',mode:'lines',x:wuS.X,y:wuS.Y,line:{color:'#ff0000',width:3.5}},
 {...R,type:'scatter',mode:'markers',x:wuX,y:wuTop,marker:{symbol:'triangle-up',size:15,color:'#ff0000'}},
 sym(wuX,wuY,'star','#ff0000',14),
 sym(evansX,evansY,'pentagon','#a80000',17),
 sym(lada13X,lada13Y,'diamond','#b80000',22),
 sym(davisX,davisY,'circle','#009a0a',16),
 sq(kennX,kennY,'#00d800',16),
 sq(darkSqX,darkSqY,'#006a14',16),
 sq(boucheX,boucheY,'#ff80ff',16,'#555'),
 sym(genzelX,genzelY,'pentagon','#ff88ff',16),
 sym(daddiX,daddiY,'circle','#cc00cc',16),
 sym(tacconiX,tacconiY,'star','#aa00aa',15),
 tickMarks('x2','y2',rightXTicks,true,-5,8/91.4,'#222',1.3),
 tickMarks('x2','y2',rightXTicks,true,4,-8/91.4,'#222',1.3),
 tickMarks('x2','y2',rightYTicks,false,-2,8/98.4,'#222',1.3),
 tickMarks('x2','y2',rightYTicks,false,5,-8/98.4,'#222',1.3),
 {type:'heatmap',xaxis:'x4',yaxis:'y4',x:[0,1],y:colorbarLevels,z:colorbarLevels.map(v=>[v,v]),zmin:-2,zmax:0,zsmooth:'best',showscale:false,hoverinfo:'skip',
  colorscale:[[0,'#ffffff'],[.25,'#d8d8ff'],[.5,'#a0a0ff'],[.75,'#5a5aff'],[1,'#0808ff']]},
 tickMarks('x4','y4',blueBarTicks,false,1,-7/26,'#222',1.3),
 {type:'heatmap',xaxis:'x5',yaxis:'y5',x:[0,1],y:colorbarLevels,z:colorbarLevels.map(v=>[v,v]),zmin:-2,zmax:0,zsmooth:'best',showscale:false,hoverinfo:'skip',
  colorscale:[[0,'#ffffff'],[.25,'#ccffcc'],[.5,'#88ff88'],[.75,'#44ff44'],[1,'#08f008']]},
 tickMarks('x5','y5',greenBarTicks,false,1,-7/25,'#222',1.3)
);
// Page overlay: the legend boxes and slide text that sit under the green slide panel
const P = {xaxis:'x6',yaxis:'y6',showlegend:false,hoverinfo:'skip'};
const box=(x0,x1,y0,y1)=>({...P,type:'scatter',mode:'lines',x:[x0,x1,x1,x0,x0],y:[y0,y0,y1,y1,y0],fill:'toself',fillcolor:'#fff',line:{color:'#111',width:2}});
const txt=(x,y,t,size,col,fam,pos)=>({...P,type:'scatter',mode:'text',x:[x],y:[y],text:[t],textposition:pos||'middle right',textfont:{size,color:col||'#000',family:fam||'DejaVu Sans'}});
const key=(x,y,symbol,c,s,lc)=>({...P,type:'scatter',mode:'markers',x:[x],y:[y],marker:{symbol,size:s,color:c,line:{color:lc||'#111',width:1}}});
const LF = 25;
const milky = [['Heiderman+ 2010',96],['Lada+ 2010',134],['Wu+ 2010',171],['Gutermuth+ 2011',208],['Lada+ 2013',245],['Evans+ 2014',283]];
const unres = [['Kennicutt 1998',631],['Davis+ 2014',667],['Bouche+ 2007',703],['Daddi+ 2008, 2010',741],['Genzel+ 2010',778],['Tacconi+ 2013',815]];
traces.push(
 box(1207,1532,43,307),
 txt(1370,63,'Milky Way',21,'#000','DejaVu Sans','middle center'),
 ...milky.map(m=>txt(1288,m[1],m[0],LF)),
 key(1243,96,'square','#ffaaaa',18,'#777'),
 key(1243,134,'circle','#ff8585',18),
 key(1243,171,'star','#ff0000',16),
 key(1243,208,'triangle-up','#e00000',18),
 key(1243,245,'diamond','#b80000',23),
 key(1243,283,'pentagon','#a80000',18),
 box(1685,1871,44,90),
 {...P,type:'scatter',mode:'lines',x:[1699,1744],y:[64,64],line:{color:'#000',width:9}},
 txt(1767,64,'ϵ<sub>ff</sub>=0.01',25,'#222','Liberation Serif'),
 box(1207,1483,724,840),
 txt(1345,743,'Resolved galaxies',21,'#000','DejaVu Sans','middle center'),
 {...P,type:'scatter',mode:'lines',x:[1217,1269,1269,1217,1217],y:[768,768,788,788,768],fill:'toself',fillcolor:'#4f6f90',line:{color:'#333',width:1.5}},
 txt(1288,778,'Leroy+ 2013',LF),
 {...P,type:'scatter',mode:'lines',x:[1217,1269,1269,1217,1217],y:[806,806,825,825,806],fill:'toself',fillcolor:'#00ea00',line:{color:'#111',width:2}},
 txt(1288,815,'Bolatto+ 2011',LF),
 box(1531,1871,577,840),
 txt(1701,595,'Unresolved galaxies',21,'#000','DejaVu Sans','middle center'),
 ...unres.map(m=>txt(1612,m[1],m[0],LF)),
 key(1566,631,'square','#00d800',18),
 key(1566,667,'circle','#009a0a',16),
 key(1566,703,'square','#ff9dff',18,'#888'),
 key(1566,741,'circle','#cc00cc',18),
 key(1566,778,'pentagon','#ff88ff',18),
 key(1566,815,'star','#aa00aa',17),
 txt(311,672,'Schruba et al. (2011)',47.6,'#000','Liberation Sans')
);

const axL = {showline:true,linecolor:'#4a4a4a',linewidth:2.5,mirror:'ticks',ticks:'inside',tickcolor:'#4a4a4a',zeroline:false,showgrid:false,fixedrange:true};
const axR = {showline:true,linecolor:'#222',linewidth:1.5,mirror:'ticks',ticks:'inside',ticklen:8,tickcolor:'#222',tickwidth:1.2,zeroline:false,showgrid:false,fixedrange:true,tickfont:{family:'DejaVu Sans',size:19,color:'#222'}};
const hidden = {visible:false,fixedrange:true};
const SERIF = 'Liberation Serif';
const layout = {
 width:W,height:H,margin:{l:0,r:0,t:0,b:0,pad:0},paper_bgcolor:'#fff',plot_bgcolor:'rgba(0,0,0,0)',showlegend:false,hovermode:false,
 xaxis:{...axL,domain:hdom(261,1038),range:[-1,2.532],anchor:'y',tickvals:leftXTicks,tickformat:'.1f',ticklen:15,tickwidth:2,ticklabelstandoff:20,
   minor:{dtick:.1,ticks:'inside',ticklen:7,tickwidth:1.5,tickcolor:'#4a4a4a'},tickfont:{family:'DejaVu Sans',size:37,color:'#505050'},
   title:{text:'log Σ<sub>H</sub>  [M<sub>⊙</sub> pc<sup>-2</sup>]',font:{family:'DejaVu Sans',size:39,color:'#505050'},standoff:4}},
 yaxis:{...axL,domain:vdom(32,838),range:[-6,0],anchor:'x',tickvals:leftYTicks,ticklen:16,tickwidth:2,ticklabelstandoff:20,
   minor:{dtick:.2,ticks:'inside',ticklen:8,tickwidth:1.5,tickcolor:'#4a4a4a'},tickfont:{family:'DejaVu Sans',size:37,color:'#505050'},
   title:{text:'log Σ<sub>SFR</sub>  [M<sub>⊙</sub> yr<sup>-1</sup> kpc<sup>-2</sup>]',font:{family:'DejaVu Sans',size:40,color:'#505050'},standoff:10}},
 xaxis3:{...hidden,domain:hdom(261,1115),range:[-1,2.882],anchor:'y3'},
 yaxis3:{...hidden,domain:vdom(8,838),range:[-6,.179],anchor:'x3'},
 xaxis2:{...axR,domain:hdom(1195,1884),range:[-2,5],anchor:'y2',dtick:1,ticklabelstandoff:2,
   title:{text:'&nbsp;&nbsp;&nbsp;log Σ<sub>H₂</sub>/<i>t</i><sub>ff</sub> [<i>M</i><sub>⊙</sub> pc<sup>−2</sup> Myr<sup>−1</sup>]',font:{family:SERIF,size:50,color:'#222'},standoff:2}},
 yaxis2:{...axR,domain:vdom(30,853),range:[-5,4],anchor:'x2',dtick:1,ticklabelstandoff:3},
 xaxis4:{...hidden,domain:hdom(1884,1910),range:[0,1],anchor:'y4'},
 yaxis4:{...axR,domain:vdom(30,853),range:[-2,0],anchor:'x4',side:'right',dtick:.2,ticklen:7,showticklabels:false,mirror:false},
 xaxis5:{...hidden,domain:hdom(1910,1935),range:[0,1],anchor:'y5'},
 yaxis5:{...axR,domain:vdom(30,853),range:[-2,0],anchor:'x5',side:'right',tickvals:[0,-.5,-1,-1.5,-2],ticktext:['0.0','−0.5','−1.0','−1.5','−2.0'],ticklen:7,ticklabelstandoff:6,mirror:false,tickfont:{family:'DejaVu Sans',size:20,color:'#222'}},
 xaxis6:{...hidden,domain:[0,1],range:[0,W],anchor:'y6'},
 yaxis6:{...hidden,domain:[0,1],range:[H,0],anchor:'x6'},
 shapes:[
  {type:'line',xref:'x6',yref:'y6',x0:256,x1:256,y0:32,y1:842,line:{color:'#bbb',width:1.5},layer:'below'},
  {type:'path',xref:'x6',yref:'y6',path:'M 0 3 Q 18 10 38 4',line:{color:'#b81c2c',width:4},layer:'above'},
  {type:'path',xref:'x6',yref:'y6',path:'M 12 25 Q 36 30 59 14',line:{color:'#b81c2c',width:4},layer:'above'},
  {type:'path',xref:'x6',yref:'y6',path:'M 75 4 Q 82 3 87 0',line:{color:'#b81c2c',width:4},layer:'above'},
  {type:'rect',xref:'x6',yref:'y6',x0:482,x1:1692,y0:530,y1:799,fillcolor:'rgb(133,224,42)',opacity:.72,line:{color:'rgba(70,90,50,.8)',width:1.5},layer:'above'}
 ],
 annotations:[
  {xref:'paper',yref:'paper',x:328/W,y:1-107/H,xanchor:'left',yanchor:'middle',showarrow:false,align:'left',text:'H<sub>2</sub>',font:{family:'DejaVu Sans',size:32,color:'#505050'}},
  {xref:'paper',yref:'paper',x:328/W,y:1-147/H,xanchor:'left',yanchor:'middle',showarrow:false,align:'left',text:'FUV+24μm',font:{family:'DejaVu Sans',size:35,color:'#505050'}},
  {xref:'paper',yref:'paper',x:1026/W,y:1-292/H,xanchor:'center',yanchor:'middle',showarrow:false,text:'Gen',font:{family:'Liberation Sans',size:47,color:'#000'}},
  {xref:'paper',yref:'paper',x:35/W,y:1-442/H,xanchor:'center',yanchor:'middle',textangle:-90,showarrow:false,text:'SFR/area',font:{family:'Liberation Sans',size:47,color:'#000'}},
  {xref:'paper',yref:'paper',x:638/W,y:1-984/H,xanchor:'center',yanchor:'middle',showarrow:false,text:'Gas mass/area',font:{family:'Liberation Sans',size:47,color:'#000'}},
  {xref:'paper',yref:'paper',x:1149/W,y:1-988/H,xanchor:'left',yanchor:'middle',showarrow:false,text:'Krumholz (2014; review)',font:{family:'Liberation Sans',size:47.8,color:'#000'}},
  {xref:'paper',yref:'paper',x:1115/W,y:1-430/H,xanchor:'center',yanchor:'middle',textangle:-90,showarrow:false,
   text:'<span style="color:#6aaa35">log Σ<sub>SFR</sub></span> [<i>M</i><sub>⊙</sub> pc<sup>−2</sup> Myr<sup>−1</sup>]',font:{family:SERIF,size:48,color:'#222'}},
  {xref:'paper',yref:'paper',x:2008/W,y:1-440/H,xanchor:'center',yanchor:'middle',textangle:-90,showarrow:false,text:'Log point density',font:{family:'DejaVu Sans',size:21,color:'#222'}},
  {xref:'paper',yref:'paper',x:498/W,y:1-656/H,xanchor:'left',yanchor:'middle',showarrow:false,text:'<b>Of absolute importance that we describe the ISM of</b>',font:{family:'Liberation Sans',size:48,color:'#000'}},
  {xref:'paper',yref:'paper',x:498/W,y:1-711/H,xanchor:'left',yanchor:'middle',showarrow:false,text:'<b>galaxies as <span style="color:#d5161f">multi-phase</span></b>',font:{family:'Liberation Sans',size:48,color:'#000'}}
 ]
};
Plotly.newPlot('p',traces,layout,{staticPlot:true,displayModeBar:false});
</script></body></html>
